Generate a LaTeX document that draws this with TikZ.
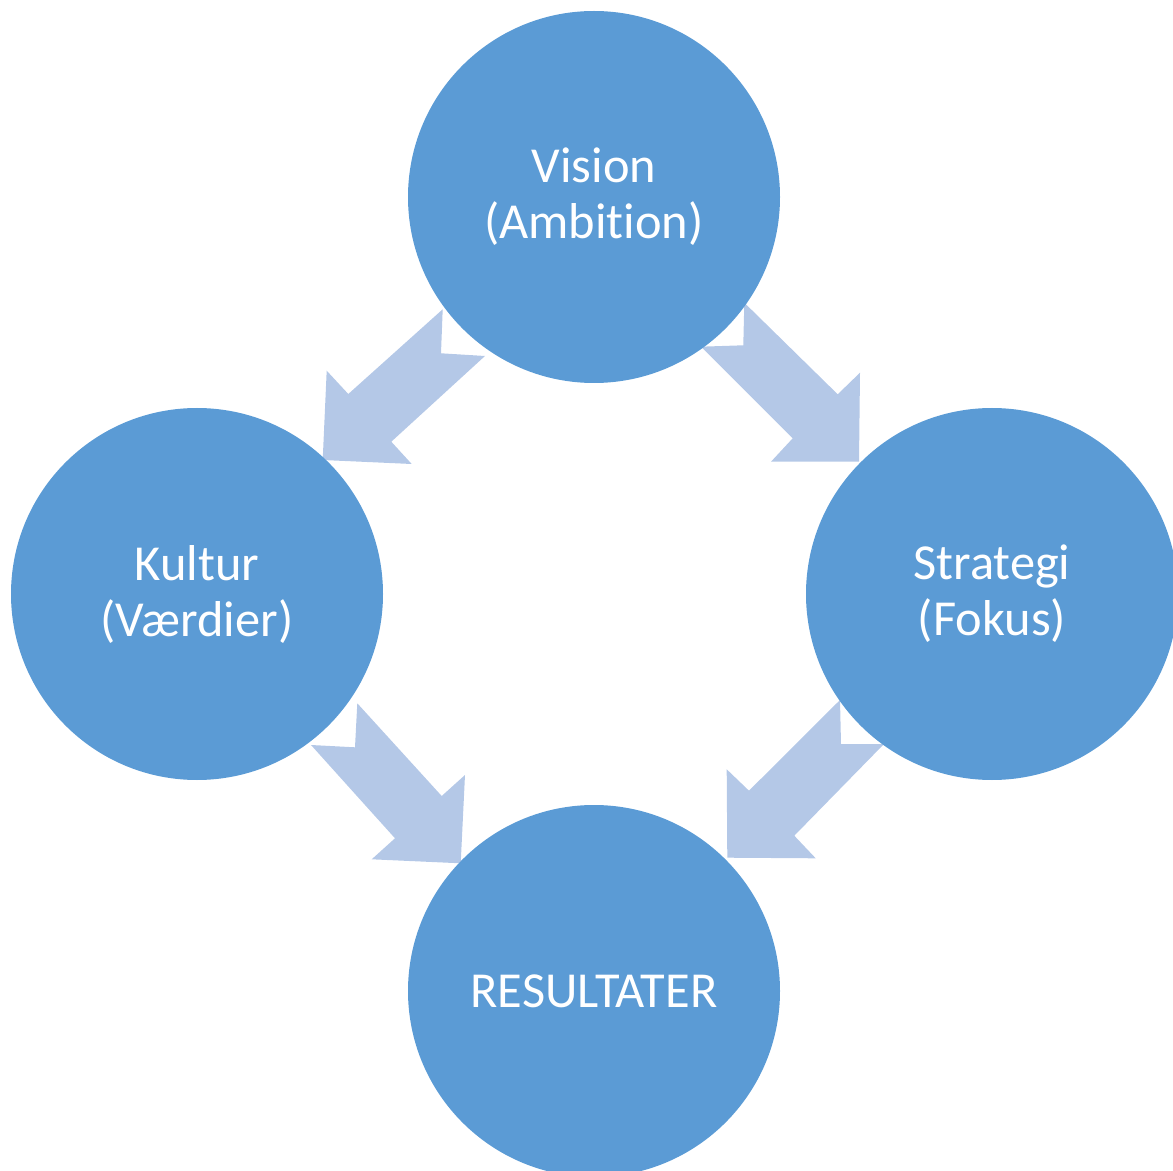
\documentclass[tikz,border=0pt]{standalone}
\usepackage{fontspec}
\setmainfont{Carlito}[Ligatures=NoCommon]
\definecolor{circleblue}{HTML}{5B9BD5}
\definecolor{arrowblue}{HTML}{B4C8E7}

\begin{document}
\begin{tikzpicture}[x=0.5pt,y=-0.5pt]
        \useasboundingbox (0,0) rectangle (1173,1171);

        % block arrows, behind the circles
        \begin{scope}[every path/.style={fill=arrowblue}]
          \fill (442.7,309.3) -- (348.3,394) -- (326.7,370.7) -- (322.7,460)
                -- (411.7,464) -- (391.3,441.7) -- (485,356) -- (441,353.3) -- cycle;
          \fill (744.3,302.7) -- (837.7,394.3) -- (860,372.7) -- (859,461.7)
                -- (771,461.7) -- (792.7,438.3) -- (701,346.7) -- (743.3,345.3) -- cycle;
          \fill (357.3,703.3) -- (441.7,796) -- (465,775) -- (460.7,863.3)
                -- (371.7,859.3) -- (395,838.3) -- (311,745) -- (355,747.3) -- cycle;
          \fill (840,700) -- (749,790.7) -- (726.7,769.3) -- (727.3,857.7)
                -- (815.7,858.3) -- (794.3,835.7) -- (884,744) -- (841,744) -- cycle;
        \end{scope}

        \begin{scope}[every node/.style={circle, fill=circleblue, minimum size=186pt,
            inner sep=0pt, align=center, text=white,
            font=\fontsize{25.2pt}{28pt}\selectfont}]
          \node (vision)    at (594,197) {Vision\\(Ambition)};
          \node (kultur)    at (197,594) {Kultur\\(Værdier)};
          \node (strategi)  at (992,594) {Strategi\\(Fokus)};
          \node (resultat)  at (594,991) {RESULTATER};
        \end{scope}

      \end{tikzpicture}
\end{document}
